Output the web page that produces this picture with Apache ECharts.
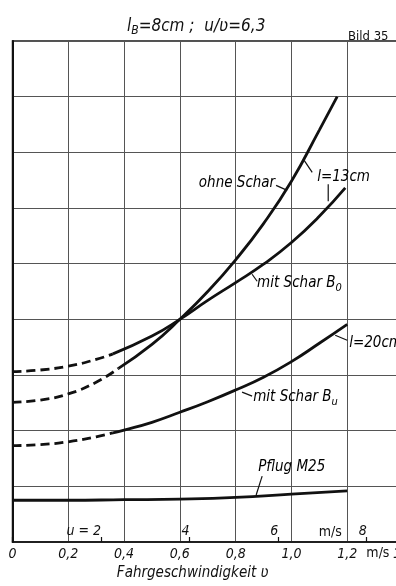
<!DOCTYPE html>
<html>
<head>
<meta charset="utf-8">
<script src="https://cdn.jsdelivr.net/npm/echarts@6/dist/echarts.min.js"></script>
<style>
  html, body { margin: 0; padding: 0; background: #fff; }
  #chart { width: 396px; height: 586px; }
</style>
</head>
<body>
<div id="chart"></div>
<script>
// Travel speed v (m/s) and draft force (grid units) for each configuration.
// Dashed parts are extrapolated, solid parts are measured.
const ohneDashV = [0, 0.1, 0.2, 0.3, 0.38];
const ohneDashF = [2.51, 2.55, 2.66, 2.87, 3.12];
const ohneV = [0.38, 0.5, 0.6, 0.7, 0.8, 0.9, 1.0, 1.1, 1.164];
const ohneF = [3.12, 3.55, 4.0, 4.5, 5.07, 5.72, 6.48, 7.4, 8.0];

const boDashV = [0, 0.1, 0.2, 0.3, 0.36];
const boDashF = [3.06, 3.09, 3.16, 3.28, 3.38];
const boV = [0.36, 0.5, 0.6, 0.7, 0.8, 0.9, 1.0, 1.1, 1.193];
const boF = [3.38, 3.7, 4.0, 4.34, 4.66, 4.99, 5.38, 5.85, 6.36];

const buDashV = [0, 0.1, 0.2, 0.3, 0.36];
const buDashF = [1.73, 1.75, 1.80, 1.89, 1.96];
const buV = [0.36, 0.4, 0.5, 0.6, 0.7, 0.8, 0.9, 1.0, 1.1, 1.2];
const buF = [1.96, 2.01, 2.15, 2.33, 2.52, 2.73, 2.96, 3.24, 3.57, 3.91];

const pflugV = [0, 0.2, 0.4, 0.6, 0.8, 1.0, 1.2];
const pflugF = [0.75, 0.75, 0.76, 0.77, 0.80, 0.86, 0.92];

// Axis ticks: travel speed v and circumferential speed u (u/v = 6.3)
const vTicks = [0, 0.2, 0.4, 0.6, 0.8, 1.0, 1.2, 1.4];
const uTicks = [2, 4, 6, 8];
const uPerV = 6.3;

const FONT = '"Liberation Sans Narrow", "DejaVu Sans Condensed", "Liberation Sans", sans-serif';
const INK = '#111';

const pairs = (xs, ys) => xs.map((x, i) => [x, ys[i]]);

function curve(xs, ys, dashed) {
  return {
    type: 'line',
    data: pairs(xs, ys),
    smooth: 0.5,
    symbol: 'none',
    silent: true,
    lineStyle: { color: INK, width: 2.8, type: dashed ? [9, 5] : 'solid', cap: 'butt' },
    z: 5
  };
}

const chart = echarts.init(document.getElementById('chart'), null, { renderer: 'canvas' });

chart.setOption({
  backgroundColor: '#fff',
  animation: false,
  title: [
    {
      text: '{i|l}{s|B}{i|=8cm ;  u/ʋ=6,3}',
      left: 122, top: 12,
      textStyle: {
        fontWeight: 'normal',
        rich: {
          i: { fontFamily: FONT, fontStyle: 'italic', fontWeight: 'normal', fontSize: 17, color: INK },
          s: { fontFamily: FONT, fontStyle: 'italic', fontWeight: 'normal', fontSize: 12, color: INK, verticalAlign: 'bottom', padding: [8, 0, 0, 0] }
        }
      }
    },
    {
      text: 'Bild 35',
      left: 343, top: 25,
      textStyle: { fontFamily: FONT, fontWeight: 'normal', fontSize: 13, color: INK }
    }
  ],
  grid: {
    left: 12.5, top: 41, width: 390.5, bottom: 44,
    outerBoundsMode: 'none', containLabel: false,
    show: true, borderColor: '#1a1a1a', borderWidth: 1.5, backgroundColor: 'transparent'
  },
  xAxis: [
    {
      type: 'value', min: 0, max: 1.4, interval: 0.2,
      axisLine: { show: true, lineStyle: { color: INK, width: 1.5 } },
      axisTick: { show: false },
      splitLine: { show: true, lineStyle: { color: '#555', width: 1 } },
      axisLabel: {
        margin: 5, fontFamily: FONT, fontStyle: 'italic', fontSize: 14, color: INK,
        hideOverlap: false,
        formatter: v => vTicks.some(t => Math.abs(t - v) < 1e-6) ? (v === 0 ? '0' : v.toFixed(1).replace('.', ',')) : ''
      },
      name: 'Fahrgeschwindigkeit ʋ',
      nameLocation: 'middle', nameGap: 18,
      nameTextStyle: { fontFamily: FONT, fontStyle: 'italic', fontSize: 15, color: INK, padding: [0, 30, 0, 0] }
    },
    {
      type: 'value', min: 0, max: 1.4 * uPerV, interval: 2,
      position: 'bottom',
      axisLine: { show: false },
      axisTick: { show: true, inside: true, length: 5, lineStyle: { color: INK, width: 1.2 } },
      splitLine: { show: false },
      axisLabel: {
        inside: true, margin: 4, align: 'right',
        fontFamily: FONT, fontStyle: 'italic', fontSize: 14, color: INK,
        formatter: v => uTicks.includes(v) ? (v === 2 ? 'u = 2' : String(v)) : ''
      }
    }
  ],
  yAxis: {
    type: 'value', min: 0, max: 9, interval: 1,
    axisLine: { show: true, lineStyle: { color: INK, width: 2 } },
    axisTick: { show: false },
    axisLabel: { show: false },
    splitLine: { show: true, lineStyle: { color: '#555', width: 1 } }
  },
  series: [
    curve(ohneDashV, ohneDashF, true),
    curve(ohneV, ohneF, false),
    curve(boDashV, boDashF, true),
    curve(boV, boF, false),
    curve(buDashV, buDashF, true),
    curve(buV, buF, false),
    curve(pflugV, pflugF, false)
  ]
});

// Curve labels with their leader lines, anchored in data coordinates
const labels = [
  { text: '{t|ohne Schar}', at: [0.9417, 6.443], align: 'right' },
  { text: '{t|l=13cm}', at: [1.0924, 6.551], align: 'left' },
  { text: '{t|mit Schar B}{s|0}', at: [0.877, 4.648], align: 'left' },
  { text: '{t|mit Schar B}{s|u}', at: [0.8628, 2.602], align: 'left' },
  { text: '{t|l=20cm}', at: [1.207, 3.571], align: 'left' },
  { text: '{t|Pflug M25}', at: [0.8807, 1.346], align: 'left' }
];
const leaders = [
  [[0.945, 6.407], [0.9848, 6.317]],
  [[1.0745, 6.640], [1.0457, 6.856]],
  [[1.1319, 6.425], [1.1319, 6.120]],
  [[0.859, 4.810], [0.877, 4.684]],
  [[0.823, 2.692], [0.859, 2.620]],
  [[1.157, 3.715], [1.200, 3.625]],
  [[0.895, 1.184], [0.8735, 0.8435]]
];

const px = p => chart.convertToPixel({ xAxisIndex: 0, yAxisIndex: 0 }, p);
const rich = {
  t: { fontFamily: FONT, fontStyle: 'italic', fontSize: 15, color: INK },
  s: { fontFamily: FONT, fontStyle: 'italic', fontSize: 11, color: INK, verticalAlign: 'bottom', padding: [9, 0, 0, 0] }
};

const graphics = [];
labels.forEach(l => {
  const [x, y] = px(l.at);
  graphics.push({
    type: 'text', x, y, z: 10, silent: true,
    style: { text: l.text, rich, textAlign: l.align, textVerticalAlign: 'middle' }
  });
});
leaders.forEach(seg => {
  const a = px(seg[0]), b = px(seg[1]);
  graphics.push({
    type: 'line', z: 10, silent: true,
    shape: { x1: a[0], y1: a[1], x2: b[0], y2: b[1] },
    style: { stroke: INK, lineWidth: 1.2 }
  });
});
// unit marks on both speed scales
const uUnit = px([7.18 / uPerV, 0.18]);
const vUnit = px([1.31, 0]);
graphics.push({
  type: 'text', x: uUnit[0], y: uUnit[1], silent: true,
  style: { text: 'm/s', fontFamily: FONT, fontSize: 14, fill: INK, textAlign: 'center', textVerticalAlign: 'middle' }
});
graphics.push({
  type: 'text', x: vUnit[0], y: vUnit[1] + 11, silent: true,
  style: { text: 'm/s', fontFamily: FONT, fontSize: 14, fill: INK, textAlign: 'center', textVerticalAlign: 'middle' }
});

chart.setOption({ graphic: graphics });
</script>
</body>
</html>
